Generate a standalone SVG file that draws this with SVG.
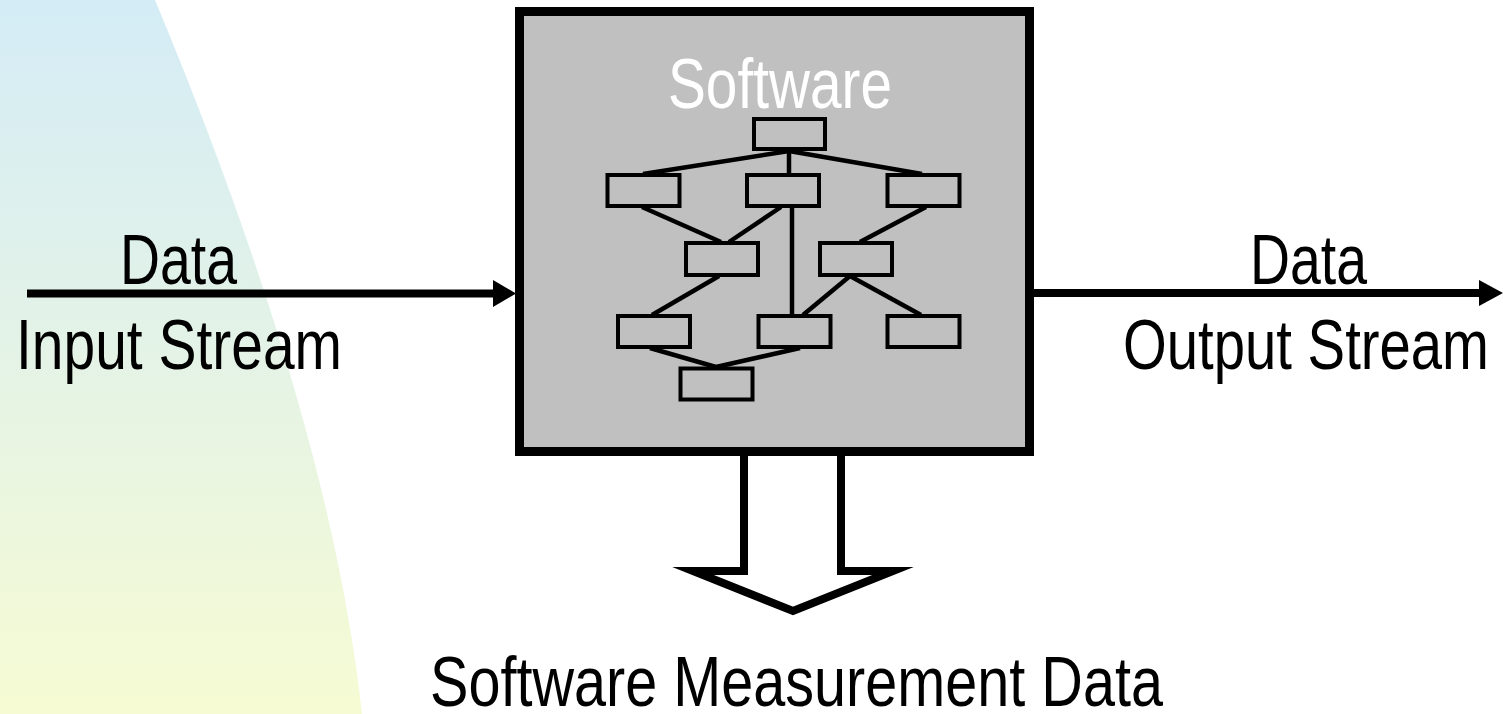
<svg xmlns="http://www.w3.org/2000/svg" width="1503" height="714" viewBox="0 0 1503 714">
  <defs>
    <linearGradient id="bgGrad" x1="0" y1="0" x2="0" y2="1">
      <stop offset="0" stop-color="#D4ECF6"/>
      <stop offset="0.5" stop-color="#E4F3E6"/>
      <stop offset="1" stop-color="#F6FBD3"/>
    </linearGradient>
    <style>
      .lbl { font-family: "Liberation Sans Narrow", "Liberation Sans", Arial, sans-serif; font-size: 70px; fill: #000; }
      .title { fill: #FFFFFF; }
      .mod { fill: #C0C0C0; stroke: #000; stroke-width: 4; }
      .link { stroke: #000; stroke-width: 4.5; fill: none; }
      .flow { stroke: #000; stroke-width: 8; fill: none; }
      .head { fill: #000; }
    </style>
  </defs>

  <rect width="1503" height="714" fill="#FFFFFF"/>
  <!-- curved backdrop on the left -->
  <path d="M0,0 H155 Q330,420 362,714 H0 Z" fill="url(#bgGrad)"/>

  <!-- connectors -->
  <g id="connectors">
    <line class="flow" x1="27" y1="293.5" x2="496" y2="293.5"/>
    <polygon class="head" points="493,280 516,293.5 493,307"/>
    <line class="flow" x1="1030" y1="293" x2="1482" y2="293"/>
    <polygon class="head" points="1479,280 1503,293 1479,306"/>
  </g>

  <!-- measurement output arrow -->
  <g id="measure-arrow">
    <path d="M744,452 V571 H693 L793,611 L893,571 H841 V452" fill="#FFFFFF" stroke="#000" stroke-width="8" stroke-linejoin="miter" stroke-miterlimit="12"/>
  </g>

  <!-- software box -->
  <g id="software">
    <rect x="519.5" y="11.5" width="510" height="440" fill="#C0C0C0" stroke="#000" stroke-width="9"/>
    <text class="lbl title" x="780" y="108" text-anchor="middle" textLength="224" lengthAdjust="spacingAndGlyphs">Software</text>

    <!-- module structure links -->
    <g id="module-links">
      <line class="link" x1="789" y1="151" x2="643" y2="174"/>
      <line class="link" x1="789" y1="151" x2="789" y2="174"/>
      <line class="link" x1="789" y1="151" x2="922" y2="174"/>
      <line class="link" x1="642" y1="207" x2="721" y2="242"/>
      <line class="link" x1="781" y1="207" x2="729" y2="242"/>
      <line class="link" x1="792" y1="207" x2="792" y2="315"/>
      <line class="link" x1="926" y1="207" x2="860" y2="242"/>
      <line class="link" x1="719" y1="276" x2="652" y2="315"/>
      <line class="link" x1="850" y1="276" x2="803" y2="315"/>
      <line class="link" x1="850" y1="276" x2="921" y2="315"/>
      <line class="link" x1="650" y1="348" x2="716" y2="367"/>
      <line class="link" x1="800" y1="348" x2="716" y2="367"/>
    </g>

    <!-- modules -->
    <g id="m-top"><rect class="mod" x="754" y="119" width="71" height="30"/></g>
    <g id="m-r2-left"><rect class="mod" x="607.5" y="175" width="72" height="31"/></g>
    <g id="m-r2-mid"><rect class="mod" x="747" y="175" width="72" height="31"/></g>
    <g id="m-r2-right"><rect class="mod" x="887.5" y="175" width="72" height="31"/></g>
    <g id="m-r3-left"><rect class="mod" x="686" y="243" width="72" height="32"/></g>
    <g id="m-r3-right"><rect class="mod" x="820" y="243" width="72" height="32"/></g>
    <g id="m-r4-left"><rect class="mod" x="618" y="316" width="72" height="31"/></g>
    <g id="m-r4-mid"><rect class="mod" x="758.5" y="316" width="72" height="31"/></g>
    <g id="m-r4-right"><rect class="mod" x="887.5" y="316" width="72" height="31"/></g>
    <g id="m-bottom"><rect class="mod" x="680.5" y="368.5" width="72" height="31"/></g>
  </g>

  <!-- labels -->
  <g id="input-label">
    <text class="lbl" x="178.5" y="284" text-anchor="middle" textLength="117" lengthAdjust="spacingAndGlyphs">Data</text>
    <text class="lbl" x="179" y="369" text-anchor="middle" textLength="326" lengthAdjust="spacingAndGlyphs">Input Stream</text>
  </g>
  <g id="output-label">
    <text class="lbl" x="1308.5" y="284" text-anchor="middle" textLength="117" lengthAdjust="spacingAndGlyphs">Data</text>
    <text class="lbl" x="1306" y="369" text-anchor="middle" textLength="366" lengthAdjust="spacingAndGlyphs">Output Stream</text>
  </g>
  <g id="measure-label">
    <text class="lbl" x="796.5" y="706" text-anchor="middle" textLength="733" lengthAdjust="spacingAndGlyphs">Software Measurement Data</text>
  </g>
</svg>
